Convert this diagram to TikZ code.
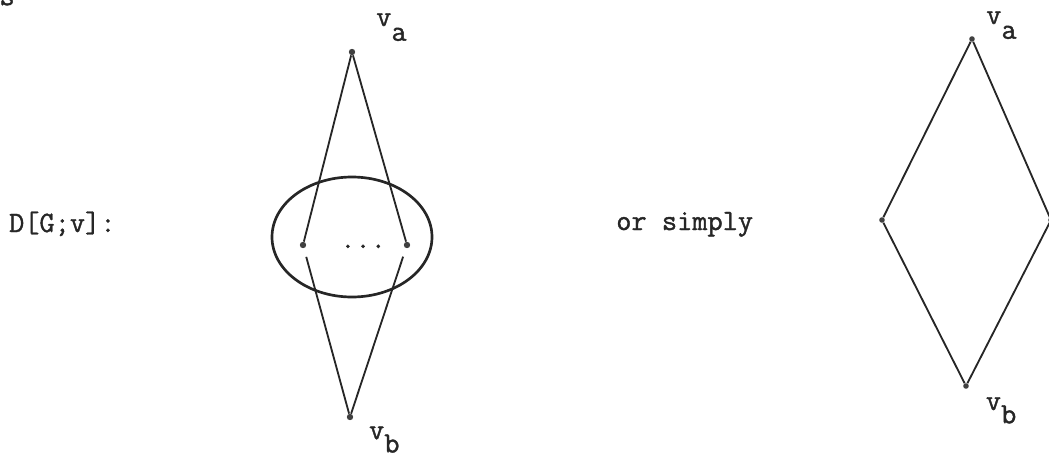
\documentclass[tikz,border=0pt]{standalone}
\usepackage{fontspec}
\setmonofont{Latin Modern Mono}[AutoFakeBold=1.3]
\usepackage{tikz}
\usetikzlibrary{shapes.geometric, positioning}

\begin{document}
\begin{tikzpicture}[
    vertex/.style={circle, fill=black!75, inner sep=0pt, minimum size=0.16cm},
    edge/.style={line width=1.3pt, black!85},
    blob/.style={draw, ellipse, line width=1.9pt, black!85, inner sep=0pt,
      minimum width=4cm, minimum height=3cm},
    lbl/.style={anchor=base west, inner sep=0pt,
      font=\ttfamily\bfseries\fontsize{21}{24}\selectfont, black!85}
]
\useasboundingbox (0,0) rectangle (26.225,-11.425);

% Text
\node[lbl] (frag) at (-0.4,-0.13) {as};
\node[lbl] (title) at (0.22,-5.8) {D[G;v]:};
\node[lbl] (simply) at (15.4,-5.75) {or simply};

% Left diagram
\node[blob] (G) at (8.8,-5.925) {};
\node[vertex] (va1) at (8.8,-1.3) {};
\node[vertex] (u1) at (7.575,-6.125) {};
\node[vertex] (u2) at (10.175,-6.125) {};
\node[vertex] (vb1) at (8.75,-10.425) {};
\node[lbl] (dots) at (8.5,-6.2) {...};
\node[lbl] (la1) at (9.4,-0.65) {v\raisebox{-0.5em}{a}};
\node[lbl] (lb1) at (9.22,-10.98) {v\raisebox{-0.45em}{b}};

\draw[edge] (va1) -- (u1);
\draw[edge] (va1) -- (u2);
\draw[edge, shorten >=0.22cm] (vb1) -- (u1);
\draw[edge, shorten >=0.22cm] (vb1) -- (u2);

% Right diagram
\node[vertex, minimum size=0.14cm] (va2) at (24.3,-0.975) {};
\node[vertex, minimum size=0.14cm] (w1) at (22.05,-5.5) {};
\node[vertex, minimum size=0.14cm] (w2) at (26.275,-5.5) {};
\node[vertex, minimum size=0.14cm] (vb2) at (24.15,-9.65) {};
\node[lbl] (la2) at (24.65,-0.6) {v\raisebox{-0.5em}{a}};
\node[lbl] (lb2) at (24.64,-10.25) {v\raisebox{-0.45em}{b}};

\draw[edge] (va2) -- (w1);
\draw[edge] (va2) -- (w2);
\draw[edge] (w1) -- (vb2);
\draw[edge] (w2) -- (vb2);

\end{tikzpicture}
\end{document}
